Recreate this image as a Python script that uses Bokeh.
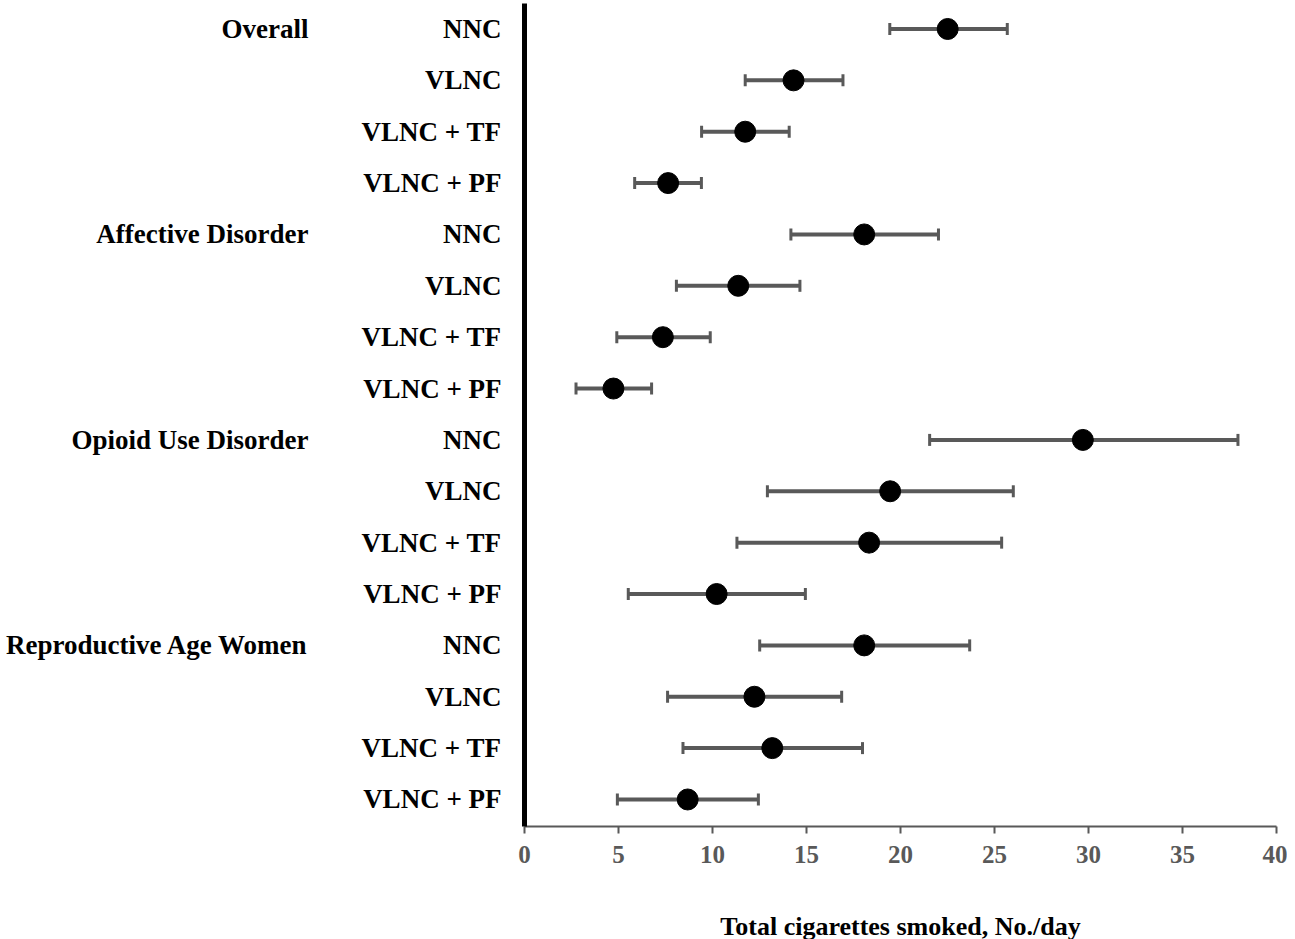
from bokeh.plotting import figure
from bokeh.models import Range1d, FixedTicker, Whisker, TeeHead, ColumnDataSource, LinearAxis
from bokeh.embed import file_html
from bokeh.resources import INLINE

# ---- data ----
groups = ["Overall", "Affective Disorder", "Opioid Use Disorder", "Reproductive Age Women"]
conditions = ["NNC", "VLNC", "VLNC + TF", "VLNC + PF"]
means = [22.51, 14.31, 11.74, 7.64,
         18.07, 11.37, 7.36, 4.73,
         29.70, 19.45, 18.33, 10.22,
         18.07, 12.23, 13.18, 8.68]
lower = [19.43, 11.74, 9.42, 5.86,
         14.17, 8.08, 4.91, 2.74,
         21.55, 12.92, 11.30, 5.52,
         12.51, 7.61, 8.43, 4.94]
upper = [25.68, 16.94, 14.08, 9.41,
         22.02, 14.65, 9.88, 6.76,
         37.95, 26.00, 25.38, 14.94,
         23.68, 16.87, 17.98, 12.44]
x_ticks = [0, 5, 10, 15, 20, 25, 30, 35, 40]
x_title = "Total cigarettes smoked, No./day"

# ---- layout constants ----
FONT = "Liberation Serif"
GREY = "#595959"

rows = list(range(len(means)))
row_labels = [c for g in groups for c in conditions]
group_rows = [i * len(conditions) for i in range(len(groups))]
src = ColumnDataSource(dict(y=rows, m=means, lo=lower, hi=upper))

p = figure(frame_width=752, frame_height=823,
           x_range=Range1d(0, 40), y_range=Range1d(15.526, -0.496),
           output_backend="svg", toolbar_location=None,
           min_border_left=524, min_border_right=11, min_border_top=3,
           min_border_bottom=104)
p.outline_line_color = None
p.xgrid.visible = False
p.ygrid.visible = False
p.background_fill_color = "white"
p.border_fill_color = "white"

w = Whisker(source=src, base="y", lower="lo", upper="hi", dimension="width",
            line_color=GREY, line_width=4, level="underlay",
            lower_head=TeeHead(size=12, line_color=GREY, line_width=3),
            upper_head=TeeHead(size=12, line_color=GREY, line_width=3))
p.add_layout(w)
p.scatter(x="m", y="y", source=src, size=21, color="black")

# x axis
xa = p.xaxis[0]
xa.ticker = FixedTicker(ticks=x_ticks)
xa.minor_tick_line_color = None
xa.axis_line_color = GREY
xa.axis_line_width = 2
xa.major_tick_line_color = GREY
xa.major_tick_line_width = 2
xa.major_tick_in = 0
xa.major_tick_out = 7
xa.major_label_standoff = 12
xa.major_label_text_font = FONT
xa.major_label_text_font_style = "bold"
xa.major_label_text_font_size = "25px"
xa.major_label_text_color = GREY
xa.axis_label = x_title
xa.axis_label_text_font = FONT
xa.axis_label_text_font_style = "bold"
xa.axis_label_text_font_size = "26px"
xa.axis_label_text_color = "black"
xa.axis_label_standoff = 46

# y axis (condition labels)
ya = p.yaxis[0]
ya.ticker = FixedTicker(ticks=rows)
ya.major_label_overrides = {i: lab for i, lab in enumerate(row_labels)}
ya.minor_tick_line_color = None
ya.major_tick_line_color = None
ya.major_tick_out = 0
ya.major_tick_in = 0
ya.axis_line_color = "black"
ya.axis_line_width = 5
ya.major_label_standoff = 23
ya.major_label_text_font = FONT
ya.major_label_text_font_style = "bold"
ya.major_label_text_font_size = "27px"
ya.major_label_text_color = "black"

# outer y axis (group labels)
ga = LinearAxis(ticker=FixedTicker(ticks=group_rows),
                major_label_overrides={r: g for r, g in zip(group_rows, groups)})
ga.axis_line_color = None
ga.major_tick_line_color = None
ga.minor_tick_line_color = None
ga.major_tick_out = 0
ga.major_tick_in = 0
ga.major_label_standoff = 50
ga.major_label_text_font = FONT
ga.major_label_text_font_style = "bold"
ga.major_label_text_font_size = "27px"
ga.major_label_text_color = "black"
p.add_layout(ga, "left")

open("out.html", "w").write(file_html(p, INLINE))
